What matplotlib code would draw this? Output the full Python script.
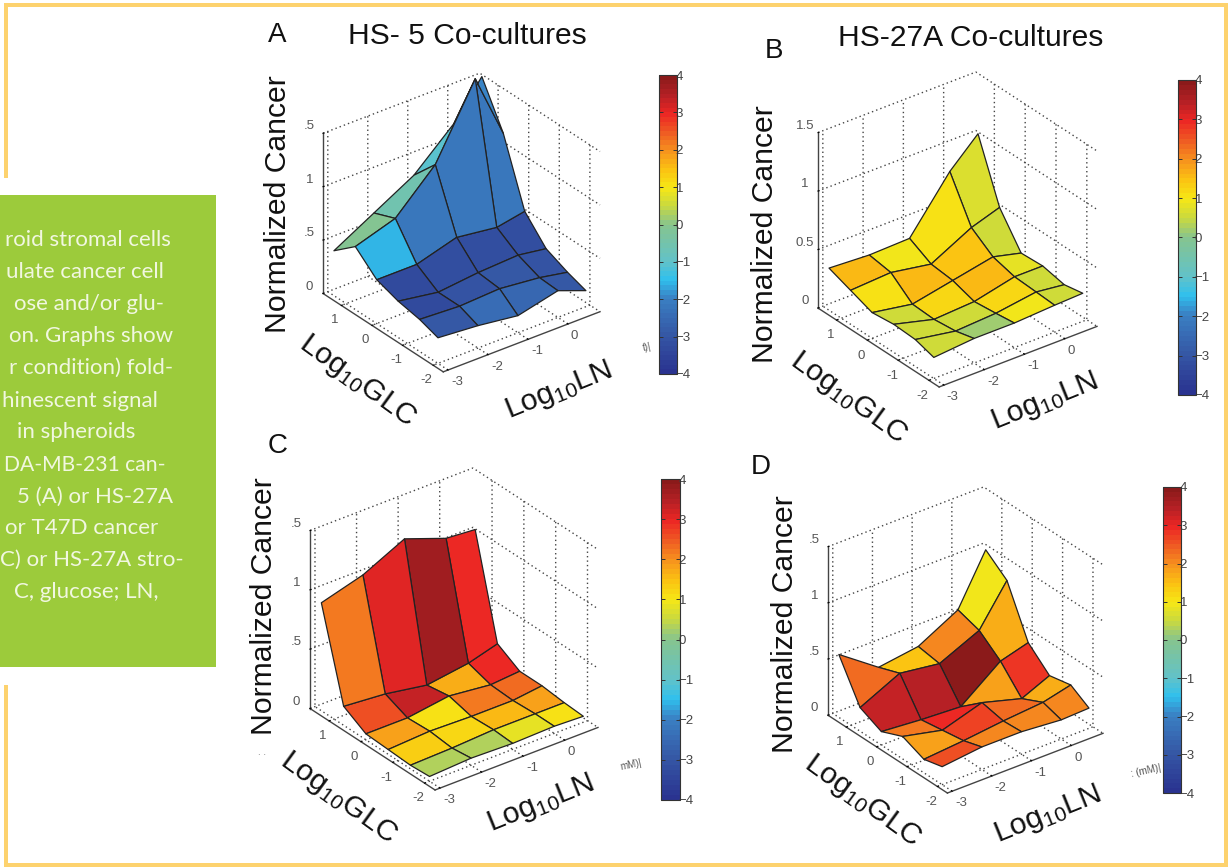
import numpy as np
import matplotlib
matplotlib.use('Agg')
import matplotlib.pyplot as plt
from matplotlib.colors import LinearSegmentedColormap, Normalize
from matplotlib.cm import ScalarMappable
from matplotlib.patches import Rectangle
from mpl_toolkits.mplot3d import proj3d

W, H = 1230, 867
plt.rcParams['font.family'] = ['Liberation Sans', 'DejaVu Sans']
plt.rcParams['mathtext.fontset'] = 'custom'
plt.rcParams['mathtext.rm'] = 'Liberation Sans'
plt.rcParams['mathtext.it'] = 'Liberation Sans:italic'
plt.rcParams['grid.color'] = '#444444'
plt.rcParams['grid.linestyle'] = (0, (1, 2.2))
plt.rcParams['grid.linewidth'] = 1.0

log_ln = [-3, -2, -1, 0, 0.7]
log_glc = [-2, -1.4, -0.7, 0, 0.7, 1.4]

z_a = [[.24, .21, .16, .25, .15], [.30, .28, .30, .26, .21], [.34, .28, .32, .34, .30],
       [.41, .41, .52, .47, .52], [.59, .71, 1.07, 1.73, 1.12], [.42, .63, .84, 1.18, 1.52]]
c_a = [[-3.0, -2.5, -2.6, -3.0], [-3.3, -3.1, -3.0, -3.1], [-3.3, -3.2, -3.2, -3.2],
       [-1.6, -2.2, -2.2, -2.2], [-0.1, -0.6, -1.1, -2.0]]
z_b = [[.18, .21, .21, .23, .24], [.23, .17, .19, .24, .21], [.24, .15, .17, .25, .25],
       [.22, .16, .23, .30, .24], [.29, .31, .25, .43, .51], [.36, .34, .35, .79, 1.02]]
c_b = [[.6, .2, .9, .55], [.55, .5, 1.2, .5], [.6, 1.2, 1.6, .8],
       [1.1, 1.6, 1.4, .55], [1.6, .95, 1.1, .65]]
z_c = [[.04, .06, .05, .06, .05], [.03, .04, .06, .06, .06], [.04, .06, .05, .05, .08],
       [.05, .05, .10, .06, .08], [.16, .13, .07, .12, .19], [.91, 1.01, 1.18, 1.05, 1.03]]
c_c = [[.3, .35, .8, 1.1], [1.3, 1.15, 1.6, 1.8], [1.8, 1.0, 2.2, 2.3],
       [2.6, 3.3, 1.7, 2.9], [2.2, 3.0, 3.7, 2.9]]
z_d = [[.16, .20, .20, .17, .18], [.12, .15, .19, .22, .28], [.20, .12, .23, .13, .24],
       [.12, .09, .07, .34, .41], [.21, .38, .33, .49, .84], [.56, .31, .36, .55, .99]]
c_d = [[2.6, 2.0, 2.1, 2.0], [1.8, 2.7, 2.3, 1.7], [2.2, 2.9, 1.8, 2.8],
       [3.3, 3.4, 3.9, 1.7], [2.3, 1.4, 2.0, 0.95]]

panel_letters = ['A', 'B', 'C', 'D']
panel_titles = ['HS- 5 Co-cultures', 'HS-27A Co-cultures', '', '']
z_tick_values = [0, 0.5, 1, 1.5]
z_labels_clipped = ['0', '.5', '1', '.5']
z_labels_full = ['0', '0.5', '1', '1.5']
ln_ticks = [-3, -2, -1, 0]
glc_ticks = [-2, -1, 0, 1]
cbar_ticks = [-4, -3, -2, -1, 0, 1, 2, 3, 4]

cmap_values = [-4, -3, -2, -1.5, -1, 0, 0.5, 1, 1.5, 2, 2.5, 3, 3.5, 4]
cmap_colors = ['#2a3390', '#3557a5', '#3a80c3', '#2fc0ee', '#62c2c8', '#86c48e', '#c9d93f', '#f6e716',
               '#fbc112', '#f6921e', '#ef5a23', '#ec2624', '#b52025', '#8b1a1a']
cmap = LinearSegmentedColormap.from_list('custom', [((v + 4) / 8, c) for v, c in zip(cmap_values, cmap_colors)], N=64)
norm = Normalize(-4, 4)

fig = plt.figure(figsize=(W / 100, H / 100), dpi=100, facecolor='white')


def rect(x0, y0, x1, y1, color):
    fig.patches.append(Rectangle((x0 / W, 1 - y1 / H), (x1 - x0) / W, (y1 - y0) / H,
                                 transform=fig.transFigure, facecolor=color, edgecolor='none'))


def ftext(x, y, s, **kw):
    return fig.text(x / W, 1 - y / H, s, **kw)


FRAME = '#fdd26e'
rect(4, 3, 1228, 7, FRAME)
rect(4, 863, 1228, 867, FRAME)
rect(1224, 3, 1228, 867, FRAME)
rect(4, 3, 8, 178, FRAME)
rect(4, 685, 8, 867, FRAME)
rect(0, 195, 216, 667, '#9ccb3b')

side_lines = ['roid stromal cells', 'ulate cancer cell', 'ose and/or glu-', 'on. Graphs show',
              'r condition) fold-', 'hinescent signal', 'in spheroids', 'DA-MB-231 can-',
              '5 (A) or HS-27A', 'or T47D cancer', 'C) or HS-27A stro-', 'C, glucose; LN,']
side_right = [171, 164, 164, 173, 173, 158, 135, 165, 173, 158, 184, 158]
side_base = [246, 278, 310, 342, 374, 407, 438, 471, 503, 534, 566, 598]
side_size = [16, 16, 16, 16, 16, 16, 16, 15.2, 16, 16, 16, 16]
for s, xr, yb, fs in zip(side_lines, side_right, side_base, side_size):
    ftext(xr, yb, s, ha='right', va='baseline', color='#f1f7e0', fontsize=fs, family='Lato')

# left, right, bottom, top of the 3-D box in pixels, and horizontal / vertical box sizes
boxes = [(323, 600, 372, 73), (818, 1097, 387, 72), (310, 598, 790, 468), (828, 1103, 793, 487)]
z_ratio = [185 / 197.6, 202.6 / 199, 205.5 / 205.4, 194.5 / 196]
surfaces = [(z_a, c_a), (z_b, c_b), (z_c, c_c), (z_d, c_d)]
xlim, ylim, zlim = (-3.12, 0.8), (-2.33, 1.6), (0, 1.5)


def box_extent(ax):
    M = ax.get_proj()
    px = []
    for x in xlim:
        for y in ylim:
            for z in zlim:
                u, v, _ = proj3d.proj_transform(x, y, z, M)
                px.append(ax.transData.transform((u, v)))
    px = np.array(px)
    return px[:, 0].min(), px[:, 0].max(), px[:, 1].min(), px[:, 1].max()


X, Y = np.meshgrid(log_ln, log_glc)
for k, (zs, cs) in enumerate(surfaces):
    L, R, B, T = boxes[k]
    cx, cy = (L + R) / 2, (B + T) / 2
    size = 400.0
    ax = fig.add_axes([(cx - size / 2) / W, 1 - (cy + size / 2) / H, size / W, size / H], projection='3d',
                      proj_type='ortho')
    ax.set_box_aspect((1, 1, z_ratio[k]))
    ax.view_init(elev=30, azim=-127.5)
    ax.patch.set_alpha(0)
    fc = cmap(norm(np.array(cs)))
    ax.plot_surface(X, Y, np.array(zs), facecolors=fc, shade=False, edgecolor='#222222', linewidth=0.9,
                    rstride=1, cstride=1, antialiased=True)
    ax.set_xlim(*xlim)
    ax.set_ylim(*ylim)
    ax.set_zlim(*zlim)
    ax.set_xticks(ln_ticks)
    ax.set_yticks(glc_ticks)
    ax.set_zticks(z_tick_values)
    ax.set_xticklabels([str(t) for t in ln_ticks])
    ax.set_yticklabels([str(t) for t in glc_ticks])
    ax.set_zticklabels(z_labels_full if k == 1 else z_labels_clipped)
    ax.tick_params(axis='both', labelsize=9.5, labelcolor='#555555', pad=0)
    ax.tick_params(axis='x', pad=-5)
    ax.tick_params(axis='y', pad=-3)
    ax.tick_params(axis='z', pad=-2)
    ax.zaxis.set_ticks_position('upper')
    for t in ax.zaxis.get_major_ticks():
        t.label1.set_verticalalignment('bottom')
    for t in ax.xaxis.get_major_ticks():
        t.label1.set_horizontalalignment('left')
    for axis in (ax.xaxis, ax.yaxis, ax.zaxis):
        axis.set_pane_color((1, 1, 1, 0))
        axis.pane.set_edgecolor('#444444')
        axis.pane.set_linestyle((0, (1, 2.2)))
        axis.pane.set_linewidth(1.0)
        axis.line.set_color('#444444')
        axis.line.set_linewidth(1.0)
        axis._axinfo['tick']['inward_factor'] = 0.0
        axis._axinfo['tick']['outward_factor'] = 0.08
        axis._axinfo['tick']['color'] = '#444444'
    # fit the projected box to its place on the figure
    for _ in range(3):
        fig.canvas.draw()
        a, b, c, d = box_extent(ax)
        size *= (R - L) / (b - a)
        ax.set_position([(cx - size / 2) / W, 1 - (cy + size / 2) / H, size / W, size / H])
        fig.canvas.draw()
        a, b, c, d = box_extent(ax)
        cx += (L + R) / 2 - (a + b) / 2
        cy += (B + T) / 2 - (H - (c + d) / 2)
        ax.set_position([(cx - size / 2) / W, 1 - (cy + size / 2) / H, size / W, size / H])

# colour bars: left, right, top, bottom in pixels
cbars = [(659, 677, 75, 374), (1178, 1196, 80, 395), (661, 680, 479, 800), (1163, 1181, 487, 793)]
for l, r, t, b in cbars:
    cax = fig.add_axes([l / W, 1 - b / H, (r - l) / W, (b - t) / H])
    cb = fig.colorbar(ScalarMappable(norm=norm, cmap=cmap), cax=cax, ticks=cbar_ticks)
    cb.ax.tick_params(direction='in', length=3, width=0.7, pad=-1, labelsize=9.5, labelcolor='#444444', left=True,
                      right=True, color='#333333')
    cb.outline.set_linewidth(0.8)
    cb.outline.set_edgecolor('#333333')

big = dict(color='#111111', fontsize=21.7, ha='center', va='center')
for (xy, s) in [((278, 204), 'Normalized Cancer'), ((765, 234), 'Normalized Cancer'),
                ((264, 606), 'Normalized Cancer'), ((785, 624), 'Normalized Cancer')]:
    ftext(xy[0], xy[1], s, rotation=90, **big)

glc = r'Log$_{\mathit{10}}$GLC'
ln = r'Log$_{\mathit{10}}$LN'
for (xy, s, rot) in [((357, 381), glc, -36), ((848, 398), glc, -36), ((338, 798), glc, -36), ((862, 801), glc, -36),
                     ((559, 391), ln, 22), ((1045, 402), ln, 22), ((541, 804), ln, 22), ((1048, 815), ln, 22)]:
    ftext(xy[0], xy[1], s, rotation=rot, rotation_mode='anchor', **big)

letters_xy = [(277, 35), (774, 51), (278, 446), (761, 467)]
for (xy, s) in zip(letters_xy, panel_letters):
    ftext(xy[0], xy[1], s, color='#111111', fontsize=20, ha='center', va='center')
ftext(467, 36, panel_titles[0], color='#111111', fontsize=21.6, ha='center', va='center')
ftext(971, 38, panel_titles[1], color='#111111', fontsize=21.6, ha='center', va='center')

for (x, y, s) in [(647, 347, 't)|'), (631, 765, 'mM)|'), (1146, 771, ': (mM)|')]:
    ftext(x, y, s, color='#555555', fontsize=7, ha='center', va='center', rotation=12)
ftext(262, 752, '. .', color='#777777', fontsize=7, ha='center', va='center')

fig.savefig('out.png', dpi=100)
